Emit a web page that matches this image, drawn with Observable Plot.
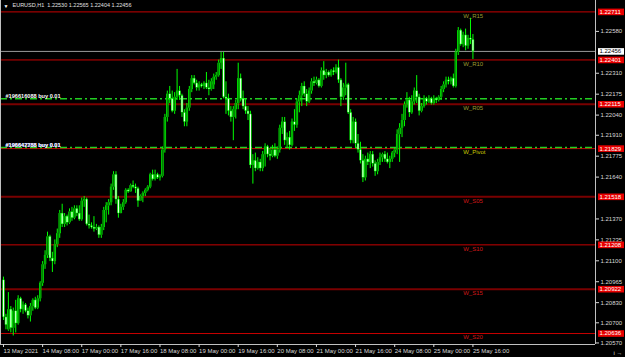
<!DOCTYPE html>
<html><head><meta charset="utf-8">
<script src="https://cdn.jsdelivr.net/npm/d3@7"></script>
<script src="https://cdn.jsdelivr.net/npm/@observablehq/plot@0.6"></script>
<style>
html,body{margin:0;padding:0;background:#000;}
#chart{width:625px;height:357px;overflow:hidden;}
</style></head><body><div id="chart"></div>
<script>
// EURUSD H1 candles, bar 0 = 13 May 2021 16:00
const opens=[1.2098,1.2074,1.2066,1.2079,1.2067,1.2078,1.2070,1.2086,1.2079,1.2082,1.2078,1.2075,1.2081,1.2085,1.2080,1.2086,1.2096,1.2108,1.2114,1.2126,
1.2112,1.2110,1.2121,1.2128,1.2141,1.2134,1.2139,1.2135,1.2142,1.2138,1.2144,1.2141,1.2137,1.2149,1.2150,1.2134,1.2133,1.2132,1.2131,1.2132,
1.2127,1.2132,1.2143,1.2146,1.2148,1.2158,1.2166,1.2150,1.2141,1.2145,1.2148,1.2156,1.2155,1.2159,1.2158,1.2157,1.2149,1.2152,1.2154,1.2156,
1.2158,1.2166,1.2163,1.2166,1.2164,1.2165,1.2182,1.2203,1.2218,1.2215,1.2207,1.2216,1.2220,1.2217,1.2206,1.2200,1.2209,1.2221,1.2228,1.2225,
1.2222,1.2224,1.2223,1.2225,1.2222,1.2221,1.2224,1.2229,1.2230,1.2238,1.2241,1.2216,1.2215,1.2207,1.2203,1.2208,1.2212,1.2228,1.2215,1.2210,
1.2207,1.2205,1.2172,1.2175,1.2170,1.2174,1.2170,1.2179,1.2184,1.2179,1.2178,1.2182,1.2178,1.2182,1.2196,1.2200,1.2188,1.2190,1.2185,1.2200,
1.2198,1.2213,1.2217,1.2223,1.2218,1.2213,1.2220,1.2226,1.2225,1.2227,1.2223,1.2233,1.2230,1.2232,1.2230,1.2233,1.2232,1.2235,1.2227,1.2216,
1.2222,1.2224,1.2206,1.2188,1.2200,1.2186,1.2182,1.2175,1.2164,1.2176,1.2174,1.2179,1.2173,1.2168,1.2174,1.2177,1.2179,1.2176,1.2174,1.2176,
1.2180,1.2182,1.2192,1.2196,1.2201,1.2211,1.2214,1.2206,1.2213,1.2220,1.2216,1.2207,1.2210,1.2215,1.2213,1.2215,1.2212,1.2215,1.2214,1.2216,
1.2221,1.2224,1.2227,1.2226,1.2228,1.2223,1.2245,1.2259,1.2250,1.2256,1.2249,1.2254,1.22530];
const highs=[1.2100,1.2076,1.2090,1.2081,1.2080,1.2085,1.2088,1.2087,1.2084,1.2083,1.2080,1.2083,1.2086,1.2087,1.2088,1.2097,1.2110,1.2117,1.2129,1.2127,
1.2116,1.2124,1.2131,1.2143,1.2147,1.2141,1.2140,1.2144,1.2145,1.2146,1.2146,1.2146,1.2151,1.2152,1.2151,1.2140,1.2135,1.2139,1.2134,1.2133,
1.2134,1.2145,1.2148,1.2150,1.2160,1.2168,1.2168,1.2152,1.2147,1.2150,1.2157,1.2157,1.2160,1.2162,1.2160,1.2158,1.2153,1.2155,1.2157,1.2159,
1.2167,1.2169,1.2169,1.2167,1.2166,1.2184,1.2205,1.2220,1.2223,1.2220,1.2219,1.2234,1.2223,1.2218,1.2208,1.2212,1.2223,1.2230,1.2230,1.2227,
1.2226,1.2225,1.2226,1.2232,1.2227,1.2228,1.2231,1.2232,1.2240,1.2245,1.2245,1.2226,1.2218,1.2210,1.2210,1.2214,1.2238,1.2231,1.2220,1.2215,
1.2210,1.2207,1.2179,1.2180,1.2177,1.2176,1.2181,1.2186,1.2185,1.2183,1.2185,1.2186,1.2184,1.2198,1.2203,1.2203,1.2193,1.2194,1.2202,1.2208,
1.2215,1.2220,1.2225,1.2226,1.2221,1.2222,1.2228,1.2229,1.2229,1.2228,1.2235,1.2239,1.2234,1.2233,1.2234,1.2235,1.2237,1.2240,1.2228,1.2225,
1.2238,1.2225,1.2208,1.2203,1.2202,1.2192,1.2187,1.2179,1.2178,1.2180,1.2181,1.2181,1.2175,1.2176,1.2180,1.2180,1.2181,1.2180,1.2178,1.2181,
1.2183,1.2195,1.2199,1.2205,1.2213,1.2219,1.2216,1.2217,1.2222,1.2230,1.2218,1.2212,1.2217,1.2216,1.2217,1.2216,1.2217,1.2216,1.2217,1.2223,
1.2226,1.2229,1.2229,1.2229,1.2231,1.2247,1.2261,1.2260,1.2258,1.2260,1.2256,1.2267,1.22565];
const lows=[1.2072,1.2066,1.2065,1.2064,1.2062,1.2064,1.2069,1.2077,1.2076,1.2077,1.2073,1.2071,1.2078,1.2079,1.2079,1.2084,1.2094,1.2105,1.2112,1.2110,
1.2103,1.2108,1.2119,1.2125,1.2132,1.2132,1.2133,1.2134,1.2136,1.2137,1.2139,1.2136,1.2136,1.2145,1.2133,1.2131,1.2131,1.2129,1.2130,1.2125,
1.2125,1.2130,1.2135,1.2140,1.2146,1.2156,1.2147,1.2138,1.2141,1.2143,1.2147,1.2154,1.2155,1.2157,1.2154,1.2145,1.2149,1.2148,1.2152,1.2155,
1.2157,1.2162,1.2162,1.2163,1.2162,1.2164,1.2180,1.2200,1.2212,1.2206,1.2205,1.2214,1.2214,1.2203,1.2197,1.2197,1.2207,1.2219,1.2224,1.2220,
1.2220,1.2222,1.2221,1.2221,1.2217,1.2220,1.2221,1.2227,1.2229,1.2234,1.2215,1.2205,1.2204,1.2200,1.2188,1.2202,1.2208,1.2213,1.2208,1.2205,
1.2201,1.2170,1.2160,1.2168,1.2169,1.2168,1.2168,1.2171,1.2177,1.2175,1.2177,1.2177,1.2176,1.2180,1.2192,1.2185,1.2183,1.2182,1.2184,1.2194,
1.2196,1.2206,1.2210,1.2216,1.2210,1.2212,1.2218,1.2223,1.2224,1.2222,1.2222,1.2227,1.2228,1.2229,1.2229,1.2230,1.2231,1.2225,1.2210,1.2214,
1.2217,1.2205,1.2186,1.2186,1.2183,1.2180,1.2173,1.2161,1.2162,1.2172,1.2170,1.2171,1.2165,1.2166,1.2172,1.2174,1.2174,1.2173,1.2170,1.2174,
1.2177,1.2179,1.2174,1.2190,1.2197,1.2209,1.2203,1.2205,1.2211,1.2212,1.2204,1.2206,1.2209,1.2211,1.2212,1.2211,1.2211,1.2212,1.2213,1.2214,
1.2219,1.2222,1.2224,1.2224,1.2222,1.2222,1.2243,1.2249,1.2248,1.2246,1.2247,1.2250,1.22404];
const closes=[1.2074,1.2069,1.2079,1.2067,1.2078,1.2070,1.2086,1.2079,1.2082,1.2078,1.2075,1.2081,1.2085,1.2080,1.2086,1.2096,1.2108,1.2114,1.2126,1.2112,
1.2110,1.2121,1.2128,1.2141,1.2134,1.2139,1.2135,1.2142,1.2138,1.2144,1.2141,1.2137,1.2149,1.2150,1.2134,1.2133,1.2132,1.2131,1.2132,1.2127,
1.2132,1.2143,1.2146,1.2148,1.2158,1.2166,1.2150,1.2141,1.2145,1.2148,1.2156,1.2155,1.2159,1.2158,1.2157,1.2149,1.2152,1.2154,1.2156,1.2158,
1.2166,1.2163,1.2166,1.2164,1.2165,1.2182,1.2203,1.2218,1.2215,1.2207,1.2216,1.2220,1.2217,1.2206,1.2200,1.2209,1.2221,1.2228,1.2225,1.2222,
1.2224,1.2223,1.2225,1.2222,1.2221,1.2226,1.2229,1.2230,1.2238,1.2241,1.2216,1.2215,1.2207,1.2203,1.2208,1.2212,1.2228,1.2215,1.2210,1.2207,
1.2205,1.2172,1.2175,1.2170,1.2174,1.2170,1.2179,1.2184,1.2179,1.2178,1.2182,1.2178,1.2182,1.2196,1.2200,1.2188,1.2190,1.2185,1.2200,1.2198,
1.2213,1.2217,1.2223,1.2218,1.2213,1.2220,1.2226,1.2225,1.2227,1.2223,1.2233,1.2230,1.2232,1.2230,1.2233,1.2232,1.2235,1.2227,1.2216,1.2222,
1.2224,1.2206,1.2188,1.2200,1.2186,1.2182,1.2175,1.2164,1.2176,1.2174,1.2179,1.2173,1.2168,1.2174,1.2177,1.2179,1.2176,1.2174,1.2176,1.2180,
1.2182,1.2192,1.2196,1.2201,1.2211,1.2214,1.2206,1.2213,1.2220,1.2216,1.2207,1.2210,1.2215,1.2213,1.2215,1.2212,1.2215,1.2214,1.2216,1.2221,
1.2224,1.2227,1.2226,1.2228,1.2223,1.2245,1.2259,1.2250,1.2256,1.2249,1.2254,1.2253,1.22456];

const xTickBars=[0,16,32,48,64,80,96,112,128,144,160,176,192];
const xTickLabels=["13 May 2021","14 May 08:00","17 May 00:00","17 May 16:00","18 May 08:00","19 May 00:00","19 May 16:00","20 May 08:00","21 May 00:00","21 May 16:00","24 May 08:00","25 May 00:00","25 May 16:00"];
// visible price-scale ticks (1.22715, 1.22445, 1.21505 sit under the price boxes)
const yTicks=[1.22580,1.22310,1.22175,1.22040,1.21910,1.21775,1.21640,1.21370,1.21235,1.21100,1.20965,1.20830,1.20700,1.20570];

const levelNames=["W_R15","W_R10","W_R05","W_Pivot","W_S05","W_S10","W_S15","W_S20"];
const levelPrices=[1.22711,1.22401,1.22115,1.21829,1.21518,1.21208,1.20922,1.20636];
const orderPrices=[1.22150,1.21836];
const orderTexts=[["#196616088 buy 0.01"],["#196642788 buy 0.01","#196647358 buy 0.01"]];
const bidPrice=1.22456;
const headerText="EURUSD,H1  1.22530 1.22565 1.22404 1.22456";
const labelBar=188;

// styles
const thickLevels=new Set(["W_R05","W_S05","W_S15"]);
const labelColor=n=>n==="W_Pivot"?"#c8c800":(n.startsWith("W_R")?"#9c9c30":"#d01818");

const candles=opens.map((o,i)=>({i,o,h:highs[i],l:lows[i],c:closes[i]}));
const levels=levelNames.map((n,k)=>({name:n,price:levelPrices[k]}));
const orders=orderPrices.map((p,k)=>({price:p,texts:orderTexts[k]}));
const orderLabelRows=orders.flatMap(o=>o.texts.map((t,j)=>({price:o.price,text:t,j})));

const xDomain=[-1.227,242.13];
const yDomain=[1.205652,1.227845];
const boxSymbol={draw(ctx){ctx.moveTo(-13,-3.3);ctx.lineTo(13,-3.3);ctx.lineTo(13,3.3);ctx.lineTo(-13,3.3);ctx.closePath();}};
const fmt=d3.format(".5f");
const bull=candles.filter(d=>d.c>=d.o), bear=candles.filter(d=>d.c<d.o);

const chart=Plot.plot({
  width:625,height:357,
  marginLeft:0,marginRight:30,marginTop:0,marginBottom:13,
  style:{background:"#000",color:"#d8d8d8",fontFamily:"'Liberation Sans', Arial, sans-serif",fontSize:"6px",overflow:"visible"},
  x:{type:"linear",domain:xDomain,axis:null},
  y:{domain:yDomain,axis:null},
  marks:[
    Plot.ruleY(levels.filter(d=>!thickLevels.has(d.name)),{y:"price",stroke:"#c80000",strokeWidth:1}),
    Plot.ruleY(levels.filter(d=>thickLevels.has(d.name)),{y:"price",stroke:"#7a0000",strokeWidth:2}),
    Plot.ruleY([bidPrice],{stroke:"#9a9a9a",strokeWidth:1}),
    Plot.ruleY(orders,{y:"price",stroke:"#22d022",strokeWidth:1.5,strokeDasharray:"7,3,2,3"}),
    Plot.ruleX(candles,{x:"i",y1:"l",y2:"h",stroke:"#00ff00",strokeWidth:1}),
    Plot.ruleX(candles,{x:"i",y1:"o",y2:"c",stroke:"#00ff00",strokeWidth:2.4}),
    Plot.ruleX(bull,{x:"i",y1:"o",y2:"c",stroke:"#007a00",strokeWidth:1.1,insetTop:0.4,insetBottom:0.4}),
    Plot.ruleX(bear,{x:"i",y1:"o",y2:"c",stroke:"#f0fff0",strokeWidth:1.1,insetTop:0.4,insetBottom:0.4}),
    Plot.text(levels,{x:()=>labelBar,y:"price",text:"name",fill:d=>labelColor(d.name),textAnchor:"start",lineAnchor:"top",dy:1.5,fontSize:6}),
    Plot.text(orderLabelRows,{y:"price",text:"text",frameAnchor:"left",dx:5,textAnchor:"start",lineAnchor:"bottom",dy:-1,fill:d=>d.j?"#d8d8ff":"#ffffff",fontWeight:"bold",fontSize:5.6}),
    Plot.ruleX([xDomain[0]],{stroke:"#c0c0c0"}),
    Plot.ruleX([xDomain[1]],{stroke:"#c0c0c0"}),
    Plot.ruleY([yDomain[0]],{stroke:"#c0c0c0"}),
    Plot.axisY({anchor:"right",ticks:yTicks,tickSize:3,tickPadding:2,tickFormat:fmt,fontSize:6,color:"#d8d8d8",dy:-0.8}),
    Plot.dot(levels,{y:"price",frameAnchor:"right",dx:15.5,symbol:boxSymbol,fill:"#e80000",stroke:"none"}),
    Plot.text(levels,{y:"price",text:d=>fmt(d.price),frameAnchor:"right",dx:4,textAnchor:"start",fill:"#ffffff",fontSize:6}),
    Plot.dot([bidPrice],{y:d=>d,frameAnchor:"right",dx:15.5,symbol:boxSymbol,fill:"#ffffff",stroke:"none"}),
    Plot.text([bidPrice],{y:d=>d,text:d=>fmt(d),frameAnchor:"right",dx:4,textAnchor:"start",fill:"#000000",fontSize:6}),
    Plot.axisX({anchor:"bottom",ticks:xTickBars,tickSize:3,tickPadding:1,tickFormat:d=>xTickLabels[xTickBars.indexOf(d)],textAnchor:"start",fontSize:6,color:"#d8d8d8"}),
    Plot.text([headerText],{text:d=>d,frameAnchor:"top-left",dx:12,dy:3,textAnchor:"start",lineAnchor:"top",fill:"#e0e0e0",fontSize:5.5}),
    Plot.text(["▼"],{text:d=>d,frameAnchor:"top-left",dx:3,dy:3.5,textAnchor:"start",lineAnchor:"top",fill:"#ffffff",fontSize:5})
  ]
});
document.getElementById("chart").appendChild(chart);
</script></body></html>
